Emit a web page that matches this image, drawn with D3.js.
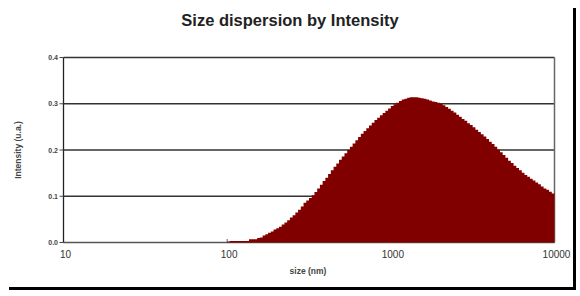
<!DOCTYPE html>
<meta charset="utf-8">
<style>
body { margin: 0; background: #fff; }
text { font-family: Arial, "Liberation Sans", sans-serif; }
</style>
<body>
<script src="https://cdn.jsdelivr.net/npm/d3@7"></script>
<script>
var width = 580, height = 296;

// bin edges (nm), log spaced, 121 edges -> 120 bins
var sizes = [
  100, 103.9, 108, 112.2, 116.6, 121.2, 125.9, 130.8, 135.9, 141.3, 146.8, 152.5, 158.5, 164.7, 171.1,
  177.8, 184.8, 192, 199.5, 207.3, 215.4, 223.9, 232.6, 241.7, 251.2, 261, 271.2, 281.8, 292.9, 304.3,
  316.2, 328.6, 341.5, 354.8, 368.7, 383.1, 398.1, 413.7, 429.9, 446.7, 464.2, 482.3, 501.2, 520.8, 541.2,
  562.3, 584.3, 607.2, 631, 655.6, 681.3, 708, 735.6, 764.4, 794.3, 825.4, 857.7, 891.3, 926.2, 962.4,
  1000, 1039, 1080, 1122, 1166, 1212, 1259, 1308, 1359, 1413, 1468, 1525, 1585, 1647, 1711,
  1778, 1848, 1920, 1995, 2073, 2154, 2239, 2326, 2417, 2512, 2610, 2712, 2818, 2929, 3043,
  3162, 3286, 3415, 3548, 3687, 3831, 3981, 4137, 4299, 4467, 4642, 4823, 5012, 5208, 5412,
  5623, 5843, 6072, 6310, 6556, 6813, 7080, 7356, 7644, 7943, 8254, 8577, 8913, 9262, 9624,
  10000
];

// intensity per bin (u.a.)
var intensity = [
  0.002, 0.003, 0.003, 0.003, 0.003, 0.003, 0.003, 0.003, 0.007, 0.007,
  0.007, 0.010, 0.011, 0.015, 0.018, 0.021, 0.024, 0.028, 0.031, 0.034,
  0.039, 0.043, 0.048, 0.054, 0.059, 0.065, 0.071, 0.078, 0.086, 0.091,
  0.096, 0.102, 0.109, 0.117, 0.125, 0.133, 0.140, 0.148, 0.156, 0.164,
  0.171, 0.179, 0.186, 0.193, 0.200, 0.207, 0.214, 0.221, 0.228, 0.235,
  0.241, 0.247, 0.253, 0.259, 0.265, 0.270, 0.275, 0.280, 0.285, 0.290,
  0.295, 0.299, 0.302, 0.306, 0.309, 0.311, 0.313, 0.314, 0.314, 0.314,
  0.313, 0.312, 0.311, 0.309, 0.307, 0.305, 0.304, 0.302, 0.300, 0.297,
  0.293, 0.289, 0.285, 0.281, 0.276, 0.272, 0.267, 0.263, 0.258, 0.254,
  0.249, 0.244, 0.239, 0.234, 0.229, 0.224, 0.218, 0.213, 0.207, 0.201,
  0.195, 0.189, 0.183, 0.177, 0.172, 0.166, 0.161, 0.156, 0.151, 0.146,
  0.142, 0.138, 0.134, 0.130, 0.126, 0.121, 0.117, 0.114, 0.110, 0.106
];

var xTicks = [10, 100, 1000, 10000];
var yTicks = [0, 0.1, 0.2, 0.3, 0.4];

var svg = d3.select("body").append("svg")
  .attr("width", width)
  .attr("height", height);

var x = d3.scaleLog().domain([10, 10000]).range([63.5, 554.5]);
var y = d3.scaleLinear().domain([0, 0.4]).range([242.5, 57.5]);

// shadow frame (right + bottom)
svg.append("line").attr("x1", 574.5).attr("x2", 574.5).attr("y1", 8).attr("y2", 290)
  .attr("stroke", "#000").attr("stroke-width", 3);
svg.append("line").attr("x1", 9).attr("x2", 576).attr("y1", 288.5).attr("y2", 288.5)
  .attr("stroke", "#000").attr("stroke-width", 3);

// title
svg.append("text")
  .attr("x", 290).attr("y", 26)
  .attr("text-anchor", "middle")
  .attr("font-size", "16.5px").attr("font-weight", "bold")
  .attr("fill", "#222")
  .text("Size dispersion by Intensity");

// grid lines
svg.append("g").selectAll("line")
  .data(yTicks.slice(1))
  .enter().append("line")
  .attr("x1", x(10)).attr("x2", x(10000))
  .attr("y1", function(d) { return y(d); })
  .attr("y2", function(d) { return y(d); })
  .attr("stroke", "#333").attr("stroke-width", 1.3);

// right border
svg.append("line").attr("x1", x(10000)).attr("x2", x(10000)).attr("y1", y(0.4)).attr("y2", y(0))
  .attr("stroke", "#666").attr("stroke-width", 1.5);

// baseline
svg.append("line").attr("x1", x(10)).attr("x2", x(10000)).attr("y1", y(0)).attr("y2", y(0))
  .attr("stroke", "#555").attr("stroke-width", 1.3);

// small inner ticks on x
svg.append("g").selectAll("line")
  .data(xTicks)
  .enter().append("line")
  .attr("x1", function(d) { return x(d); }).attr("x2", function(d) { return x(d); })
  .attr("y1", y(0)).attr("y2", y(0) - 3.5)
  .attr("stroke", "#666").attr("stroke-width", 1);

// histogram as a stepped area
var pts = intensity.map(function(v, i) { return [sizes[i], v]; });
pts.push([sizes[sizes.length - 1], intensity[intensity.length - 1]]);

var area = d3.area()
  .curve(d3.curveStepAfter)
  .x(function(d) { return x(d[0]); })
  .y0(y(0))
  .y1(function(d) { return y(d[1]); });

svg.append("path")
  .datum(pts)
  .attr("d", area)
  .attr("fill", "#800000");

// left axis line
svg.append("line").attr("x1", x(10)).attr("x2", x(10)).attr("y1", y(0.4)).attr("y2", y(0))
  .attr("stroke", "#222").attr("stroke-width", 1.3);

// y tick labels
svg.append("g").selectAll("text")
  .data(yTicks)
  .enter().append("text")
  .attr("x", 58).attr("y", function(d) { return y(d) + 2.5; })
  .attr("text-anchor", "end")
  .attr("font-size", "7px").attr("font-weight", "bold")
  .attr("fill", "#444")
  .text(function(d) { return d.toFixed(1); });

// y ticks
svg.append("g").selectAll("line")
  .data(yTicks)
  .enter().append("line")
  .attr("x1", 59.5).attr("x2", x(10))
  .attr("y1", function(d) { return y(d); })
  .attr("y2", function(d) { return y(d); })
  .attr("stroke", "#444").attr("stroke-width", 1);

// x tick labels
svg.append("g").selectAll("text")
  .data(xTicks)
  .enter().append("text")
  .attr("x", function(d) { return x(d) + 2; })
  .attr("y", 258)
  .attr("text-anchor", "middle")
  .attr("font-size", "10px")
  .attr("fill", "#333")
  .text(function(d) { return d; });

// axis titles
svg.append("text")
  .attr("x", 308).attr("y", 274)
  .attr("text-anchor", "middle")
  .attr("font-size", "8.5px").attr("font-weight", "bold")
  .attr("fill", "#444")
  .text("size (nm)");

svg.append("text")
  .attr("transform", "translate(21,150) rotate(-90)")
  .attr("text-anchor", "middle")
  .attr("font-size", "8.5px").attr("font-weight", "bold")
  .attr("fill", "#444")
  .text("Intensity (u.a.)");
</script>
</body>
